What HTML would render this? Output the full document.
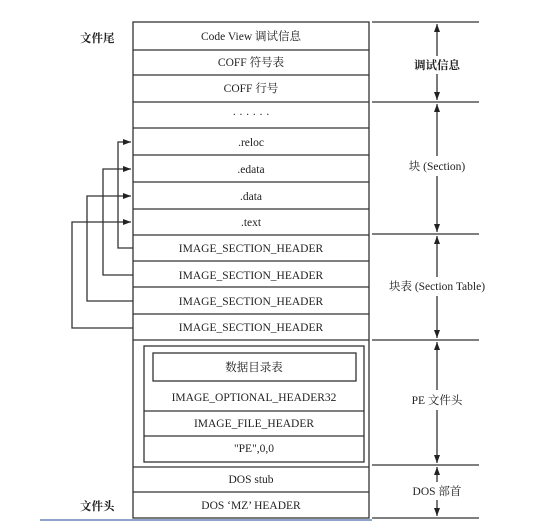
<!DOCTYPE html>
<html><head><meta charset="utf-8"><style>
body{margin:0;background:#fff;}
svg text{font-family:"Liberation Serif","Noto Serif CJK SC",serif;font-size:11.5px;fill:#222;}
</style></head><body>
<svg width="558" height="523" viewBox="0 0 558 523" xmlns="http://www.w3.org/2000/svg">
<defs><marker id="a" markerWidth="8" markerHeight="6" refX="8" refY="3" orient="auto" markerUnits="userSpaceOnUse"><path d="M0,0 L8,3 L0,6 z" fill="#222"/></marker></defs>
<g stroke="#333" stroke-width="1.3" fill="none">
<rect x="133" y="22" width="236" height="496"/>
<path d="M133 50H369M133 75H369M133 102H369M133 128H369M133 155H369M133 182H369M133 209H369M133 235H369M133 261H369M133 287H369M133 314H369M133 340H369M133 467H369M133 492H369"/>
<rect x="144" y="346" width="220" height="116"/>
<rect x="153" y="353" width="203" height="28"/>
<path d="M144 411H364M144 436H364"/>
<path d="M372 22H479M372 102H479M372 234H479M372 340H479M372 465H479M372 518H479"/>
<path d="M133 248H118V142H131" marker-end="url(#a)"/>
<path d="M133 275H103V169H131" marker-end="url(#a)"/>
<path d="M133 301H87V196H131" marker-end="url(#a)"/>
<path d="M133 328H72V222H131" marker-end="url(#a)"/>
<path d="M437 56V24" marker-end="url(#a)"/><path d="M437 74V100" marker-end="url(#a)"/>
<path d="M437 156V104" marker-end="url(#a)"/><path d="M437 176V232" marker-end="url(#a)"/>
<path d="M437 277V236" marker-end="url(#a)"/><path d="M437 296V338" marker-end="url(#a)"/>
<path d="M437 390V342" marker-end="url(#a)"/><path d="M437 410V463" marker-end="url(#a)"/>
<path d="M437 482V467" marker-end="url(#a)"/><path d="M437 500V516" marker-end="url(#a)"/>
</g>
<line x1="40" y1="520" x2="372" y2="520" stroke="#6a86b8" stroke-width="1.5"/>
<g text-anchor="middle">
<text x="251" y="40">Code View 调试信息</text>
<text x="251" y="66">COFF 符号表</text>
<text x="251" y="92">COFF 行号</text>
<text x="251" y="118">· · · · · ·</text>
<text x="251" y="146">.reloc</text>
<text x="251" y="173">.edata</text>
<text x="251" y="200">.data</text>
<text x="251" y="226">.text</text>
<text x="251" y="252">IMAGE_SECTION_HEADER</text>
<text x="251" y="279">IMAGE_SECTION_HEADER</text>
<text x="251" y="305">IMAGE_SECTION_HEADER</text>
<text x="251" y="331">IMAGE_SECTION_HEADER</text>
<text x="254" y="371">数据目录表</text>
<text x="254" y="401">IMAGE_OPTIONAL_HEADER32</text>
<text x="254" y="427">IMAGE_FILE_HEADER</text>
<text x="254" y="452">"PE",0,0</text>
<text x="251" y="483">DOS stub</text>
<text x="251" y="509">DOS ‘MZ’ HEADER</text>
<text x="437" y="69" font-weight="bold">调试信息</text>
<text x="437" y="170">块 (Section)</text>
<text x="437" y="290">块表 (Section Table)</text>
<text x="437" y="404">PE 文件头</text>
<text x="437" y="495">DOS 部首</text>
</g>
<text x="80" y="42" font-weight="bold">文件尾</text>
<text x="80" y="510" font-weight="bold">文件头</text>
</svg>
</body></html>
